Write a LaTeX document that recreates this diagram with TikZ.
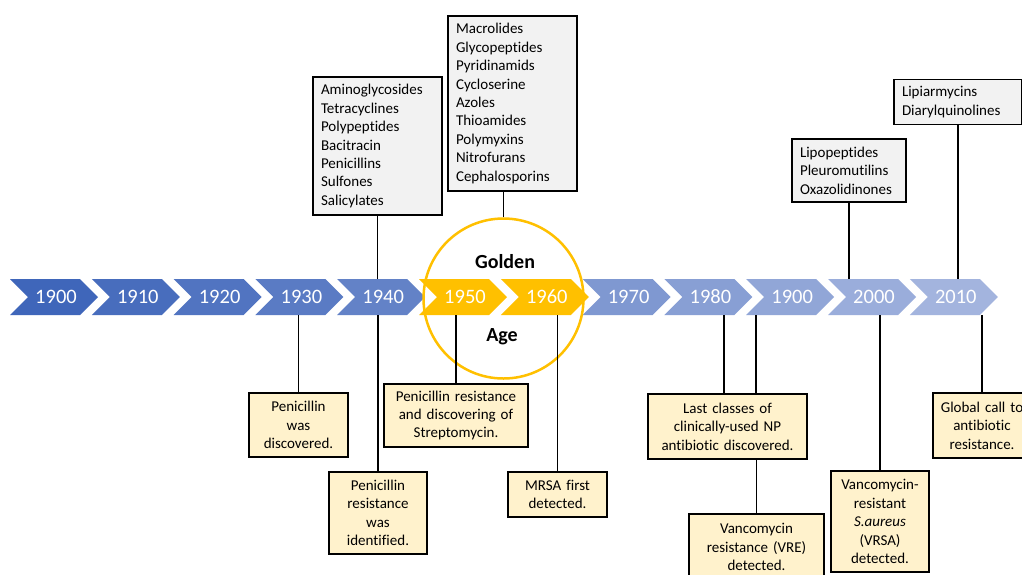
\documentclass[tikz,border=0pt]{standalone}
\usepackage{fontspec}
\setmainfont[Ligatures={NoCommon,NoRequired,NoContextual}]{Carlito}
\definecolor{blueA}{HTML}{3F66BA}
\definecolor{blueB}{HTML}{A3B4DE}
\definecolor{gold}{HTML}{FFC000}
\definecolor{boxgray}{HTML}{F2F2F2}
\definecolor{boxcream}{HTML}{FFF2CC}
\begin{document}
\begin{tikzpicture}[x=1pt,y=-1pt,
  year/.style={text=white, font=\fontsize{20.5}{24}\selectfont, minimum height=36pt, inner sep=0pt},
  gtext/.style={font=\fontsize{20}{24}\selectfont\bfseries, inner sep=0pt},
  topbox/.style={draw=black, line width=1.5pt, fill=boxgray, align=left,
    font=\fontsize{15}{18.4}\selectfont, inner xsep=8pt, inner ysep=2pt},
  botbox/.style={draw=black, line width=1.5pt, fill=boxcream, align=center,
    font=\fontsize{15}{18.4}\selectfont, inner xsep=3pt, inner ysep=2pt},
  conn/.style={draw=black, line width=1.3pt}
]
\clip (0,0) rectangle (1022,574);
\fill[white] (0,0) rectangle (1022,574);

% chevrons
\foreach \lab [count=\i from 0] in {1900,1910,1920,1930,1940,1950,1960,1970,1980,1900,2000,2010}{
  \pgfmathsetmacro\xo{10+81.8*\i}
  \pgfmathtruncatemacro\p{round(\i*100/11)}
  \pgfmathtruncatemacro\isgold{(\i==5)||(\i==6)}
  \ifnum\isgold=1 \colorlet{cf}{gold}\else\colorlet{cf}{blueB!\p!blueA}\fi
  \fill[cf] (\xo,279) -- (\xo+70,279) -- (\xo+88,297) -- (\xo+70,315) -- (\xo,315) -- (\xo+18,297) -- cycle;
  \node[year] (c\i) at (\xo+46,297) {\lab};
}

% golden age
\node[draw=gold, line width=2.5pt, circle, minimum size=160pt, inner sep=0pt] (golden) at (503.5,298.5) {};
\node[gtext] (gl) at (505,262) {Golden};
\node[gtext] (ag) at (502,337) {Age};

% top boxes
\node[topbox, text width=113pt, minimum height=138pt] (tA) at (377.5,146)
  {Aminoglycosides\\Tetracyclines\\Polypeptides\\Bacitracin\\Penicillins\\Sulfones\\Salicylates};
\node[topbox, text width=113pt, minimum height=175pt] (tB) at (512.5,103.5)
  {Macrolides\\Glycopeptides\\Pyridinamids\\Cycloserine\\Azoles\\Thioamides\\Polymyxins\\Nitrofurans\\Cephalosporins};
\node[topbox, text width=98pt, minimum height=63pt] (tC) at (849,170.5)
  {Lipopeptides\\Pleuromutilins\\Oxazolidinones};
\node[topbox, text width=112pt, minimum height=45pt] (tD) at (958,102)
  {Lipiarmycins\\Diarylquinolines};

% bottom boxes
\node[botbox, text width=93pt, minimum height=64pt] (b1) at (298.5,425) {Penicillin\\was\\discovered.};
\node[botbox, text width=92pt, minimum height=82pt] (b2) at (378,513) {Penicillin\\resistance\\was\\identified.};
\node[botbox, text width=138pt, minimum height=63pt] (b3) at (456,415.5) {Penicillin resistance\\and discovering of\\Streptomycin.};
\node[botbox, text width=93pt, minimum height=45pt] (b4) at (557.5,494.5) {MRSA first\\detected.};
\node[botbox, text width=153pt, minimum height=65pt] (b5) at (727.5,426.5) {Last classes of\\clinically-used NP\\antibiotic discovered.};
\node[botbox, text width=129pt, minimum height=66pt] (b6) at (756.5,547) {Vancomycin\\resistance (VRE)\\detected.};
\node[botbox, text width=92pt, minimum height=101pt] (b7) at (880,521.5) {Vancomycin-\\resistant\\\textit{S.aureus}\\(VRSA)\\detected.};
\node[botbox, text width=92pt, minimum height=65pt] (b8) at (982,425.5) {Global call to\\antibiotic\\resistance.};

% connectors
\draw[conn] (tA.south) -- (tA.south |- c4.north);
\draw[conn] (golden.north) -- (golden.north |- tB.south);
\draw[conn] (tC.south) -- (tC.south |- c10.north);
\draw[conn] (tD.south) -- (tD.south |- c11.north);
\draw[conn] (b1.north) -- (b1.north |- c3.south);
\draw[conn] (b2.north) -- (b2.north |- c4.south);
\draw[conn] (b3.north) -- (b3.north |- c5.south);
\draw[conn] (b4.north) -- (b4.north |- c6.south);
\draw[conn] ([xshift=-3.5pt]b5.north) -- ([xshift=-3.5pt]b5.north |- c8.south);
\draw[conn] ([xshift=28.5pt]b5.north) -- ([xshift=28.5pt]b5.north |- c9.south);
\draw[conn] (b6.north) -- (b6.north |- b5.south);
\draw[conn] (b7.north) -- (b7.north |- c10.south);
\draw[conn] (b8.north) -- (b8.north |- c11.south);
\end{tikzpicture}
\end{document}
